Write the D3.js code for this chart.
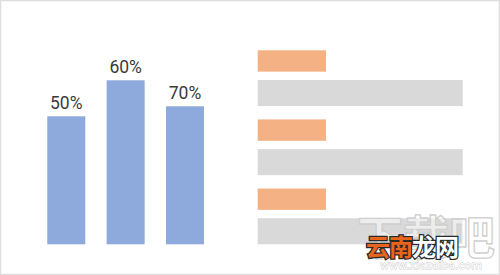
<!DOCTYPE html>
<html>
<head>
<meta charset="utf-8">
<script src="https://cdn.jsdelivr.net/npm/d3@7/dist/d3.min.js"></script>
<style>
  html, body { margin: 0; padding: 0; background: #fff; }
  svg { display: block; }
</style>
</head>
<body>
<svg id="chart" width="500" height="275"></svg>
<script>
// ---- data ----
const columnCategories = ["A", "B", "C"];
const columnValues = [64, 82, 69];
const columnLabels = ["50%", "60%", "70%"];

const rowCategories = ["1", "2", "3"];
const orangeValues = [33.3, 33.3, 33.3];
const grayValues = [100, 100, 100];

const watermarkBig = "下载吧";
const watermarkA = "云南";
const watermarkB = "龙网";
const watermarkUrl = "www.xiazaiba.com";

// ---- drawing ----
const svg = d3.select("#chart");

// frame
svg.append("rect")
  .attr("x", 0.5).attr("y", 0.5)
  .attr("width", 499).attr("height", 274)
  .attr("fill", "#fff")
  .attr("stroke", "#dedede")
  .attr("stroke-width", 1.5);

// column chart
const x = d3.scaleBand()
  .domain(columnCategories)
  .range([47.3, 204])
  .paddingInner(0.36)
  .paddingOuter(0);

const y = d3.scaleLinear()
  .domain([0, 100])
  .range([244.3, 44.3]);

const cols = svg.append("g");
cols.selectAll("rect")
  .data(columnCategories)
  .join("rect")
  .attr("x", d => x(d))
  .attr("y", (d, i) => y(columnValues[i]))
  .attr("width", x.bandwidth())
  .attr("height", (d, i) => y(0) - y(columnValues[i]))
  .attr("fill", "#8EA9DB");

cols.selectAll("text")
  .data(columnCategories)
  .join("text")
  .attr("x", d => x(d) + x.bandwidth() / 2)
  .attr("y", (d, i) => y(columnValues[i]) - 7.3)
  .attr("text-anchor", "middle")
  .attr("font-family", "'Liberation Sans Narrow', 'Roboto', sans-serif")
  .attr("font-size", 17.5)
  .attr("fill", "#3a3a3a")
  .text((d, i) => columnLabels[i]);

// horizontal bars
const g = d3.scaleBand()
  .domain(rowCategories)
  .range([50.3, 244.3])
  .paddingInner(0.193)
  .paddingOuter(0);

const hx = d3.scaleLinear()
  .domain([0, 100])
  .range([257.7, 462.7]);

const rows = svg.append("g");
rows.selectAll("rect.orange")
  .data(rowCategories)
  .join("rect")
  .attr("class", "orange")
  .attr("x", hx(0))
  .attr("y", d => g(d))
  .attr("width", (d, i) => hx(orangeValues[i]) - hx(0))
  .attr("height", g.bandwidth() * 0.383)
  .attr("fill", "#F4B183");

rows.selectAll("rect.gray")
  .data(rowCategories)
  .join("rect")
  .attr("class", "gray")
  .attr("x", hx(0))
  .attr("y", d => g(d) + g.bandwidth() * 0.533)
  .attr("height", g.bandwidth() * 0.467)
  .attr("width", (d, i) => hx(grayValues[i]) - hx(0))
  .attr("fill", "#D9D9D9");

// watermark
const wm = svg.append("g");
wm.append("text")
  .attr("x", 426).attr("y", 254)
  .attr("text-anchor", "middle")
  .attr("font-family", "'Noto Sans CJK SC', sans-serif")
  .attr("font-weight", 700)
  .attr("font-size", 46)
  .attr("fill", "#ffffff")
  .attr("fill-opacity", 0.55)
  .attr("stroke", "#cfcfcf")
  .attr("stroke-width", 1.3)
  .text(watermarkBig);

const t2 = wm.append("text")
  .attr("x", 366).attr("y", 256)
  .attr("font-family", "'Noto Sans CJK SC', sans-serif")
  .attr("font-weight", 700)
  .attr("font-size", 24)
  .attr("stroke", "#2a2a2a")
  .attr("stroke-width", 2.5)
  .attr("paint-order", "stroke")
  .attr("letter-spacing", -1);
t2.append("tspan").attr("fill", "#E8651E").text(watermarkA);
t2.append("tspan").attr("fill", "#ffffff").text(watermarkB);

wm.append("text")
  .attr("x", 431).attr("y", 269)
  .attr("text-anchor", "middle")
  .attr("font-family", "'DejaVu Sans', sans-serif")
  .attr("font-size", 11)
  .attr("fill", "#ffffff")
  .attr("stroke", "#c8c8c8")
  .attr("stroke-width", 0.8)
  .attr("paint-order", "stroke")
  .text(watermarkUrl);
</script>
</body>
</html>
